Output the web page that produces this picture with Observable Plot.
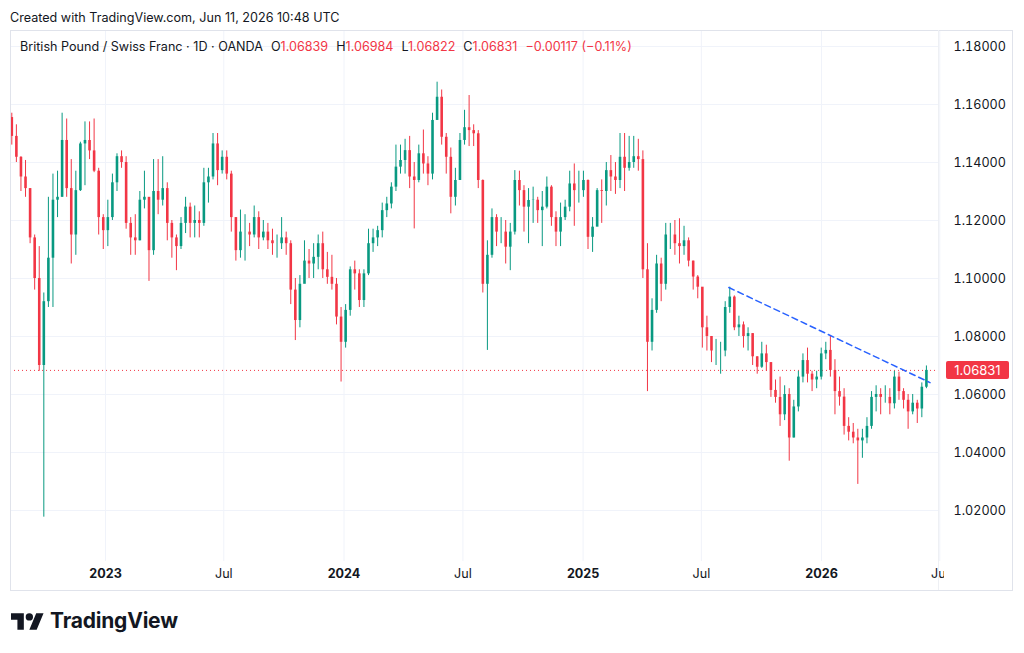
<!DOCTYPE html>
<html><head><meta charset="utf-8">
<script src="https://cdn.jsdelivr.net/npm/d3@7"></script>
<script src="https://cdn.jsdelivr.net/npm/@observablehq/plot@0.6"></script>
<style>
body{margin:0;background:#fff;font-family:Inter,"Noto Sans",sans-serif;}
#wrap{position:relative;width:1024px;height:653px;overflow:hidden;}
#wrap > svg{position:absolute;left:0;top:0;}
.ov{position:absolute;}
#created{left:10px;top:10px;font-size:12.6px;color:#131722;white-space:nowrap;}
#legend{left:20px;top:39px;font-size:12.6px;color:#131722;white-space:nowrap;}
.r{color:#f23645}
#frame{left:10px;top:30px;width:1001px;height:559px;border:1px solid #e0e3eb;box-sizing:content-box;pointer-events:none}
#sep{left:938px;top:30px;width:1px;height:560px;background:#eef0f4}
#cover{left:944px;top:562px;width:67px;height:27px;background:#fff}
#plabel{left:946px;width:63px;height:18px;background:#f23645;color:#fff;font-size:13px;line-height:18px;text-align:center;border-radius:2px}
#logo{left:11px;top:608px;display:flex;align-items:center;gap:6px}
#logo svg{display:block}
#logo span{font-size:21px;font-weight:700;color:#131722;letter-spacing:-0.2px;line-height:26px}
</style></head>
<body><div id="wrap"></div>
<script>
// ---- data (weekly candles) ----
const firstWeek = "2022-08-08";
const firstOpen = 1.1555;
const closes = [
1.1490,1.1418,1.1350,1.1310,1.1140,1.1000,1.0700,1.0920,1.1070,1.1270,
1.1280,1.1476,1.1310,1.1150,1.1303,1.1464,1.1476,1.1440,1.1370,1.1210,
1.1165,1.1210,1.1330,1.1420,1.1400,1.1190,1.1140,1.1130,1.1270,1.1280,
1.1096,1.1300,1.1270,1.1310,1.1190,1.1140,1.1110,1.1190,1.1246,1.1190,
1.1200,1.1190,1.1330,1.1350,1.1464,1.1372,1.1418,1.1360,1.1210,1.1096,
1.1160,1.1160,1.1150,1.1210,1.1140,1.1160,1.1130,1.1120,1.1120,1.1140,
1.1120,1.0960,1.0855,1.0980,1.1060,1.1050,1.1073,1.1120,1.1030,1.1004,
1.0980,1.0867,1.0780,1.0890,1.1030,1.1016,1.0924,1.1016,1.1120,1.1140,
1.1165,1.1234,1.1257,1.1315,1.1384,1.1407,1.1441,1.1350,1.1338,1.1430,
1.1395,1.1360,1.1545,1.1625,1.1487,1.1418,1.1280,1.1338,1.1476,1.1520,
1.1510,1.1499,1.1338,1.0980,1.1080,1.1210,1.1160,1.1160,1.1108,1.1160,
1.1338,1.1303,1.1246,1.1269,1.1270,1.1234,1.1246,1.1315,1.1210,1.1160,
1.1210,1.1246,1.1326,1.1303,1.1303,1.1338,1.1142,1.1177,1.1303,1.1300,
1.1372,1.1350,1.1338,1.1418,1.1380,1.1400,1.1420,1.1410,1.1030,1.0780,
1.0890,1.1050,1.0980,1.1150,1.1150,1.1120,1.1110,1.1130,1.1060,1.1005,
1.0970,1.0830,1.0800,1.0750,1.0750,1.0750,1.0900,1.0936,1.0830,1.0840,
1.0800,1.0810,1.0730,1.0694,1.0740,1.0710,1.0614,1.0590,1.0530,1.0600,
1.0450,1.0557,1.0660,1.0717,1.0670,1.0650,1.0660,1.0740,1.0752,1.0683,
1.0610,1.0591,1.0490,1.0470,1.0450,1.0440,1.0450,1.0490,1.0590,1.0600,
1.0590,1.0590,1.0568,1.0660,1.0610,1.0580,1.0540,1.0570,1.0550,1.0625,
1.06831];
const highs = [
1.1570,1.1530,1.1420,1.1407,1.1310,1.1150,1.1110,1.0950,1.1280,1.1360,
1.1370,1.1570,1.1550,1.1410,1.1370,1.1470,1.1540,1.1540,1.1550,1.1380,
1.1220,1.1270,1.1360,1.1430,1.1440,1.1420,1.1210,1.1220,1.1300,1.1370,
1.1260,1.1410,1.1410,1.1420,1.1330,1.1200,1.1150,1.1210,1.1280,1.1260,
1.1250,1.1230,1.1380,1.1380,1.1500,1.1500,1.1440,1.1440,1.1370,1.1210,
1.1236,1.1220,1.1190,1.1250,1.1230,1.1200,1.1190,1.1170,1.1150,1.1210,
1.1160,1.1130,1.1000,1.1010,1.1130,1.1100,1.1120,1.1150,1.1160,1.1090,
1.1080,1.1000,1.0900,1.0910,1.1040,1.1060,1.1030,1.1030,1.1170,1.1170,
1.1180,1.1260,1.1280,1.1330,1.1460,1.1460,1.1480,1.1490,1.1400,1.1460,
1.1512,1.1420,1.1570,1.1677,1.1650,1.1500,1.1450,1.1380,1.1500,1.1580,
1.1631,1.1530,1.1510,1.1340,1.1130,1.1240,1.1220,1.1210,1.1200,1.1190,
1.1372,1.1370,1.1320,1.1310,1.1315,1.1280,1.1300,1.1350,1.1320,1.1230,
1.1260,1.1270,1.1370,1.1395,1.1370,1.1370,1.1340,1.1210,1.1310,1.1340,
1.1400,1.1424,1.1400,1.1500,1.1500,1.1490,1.1490,1.1480,1.1440,1.1120,
1.0930,1.1080,1.1070,1.1190,1.1190,1.1200,1.1206,1.1180,1.1140,1.1060,
1.1010,1.0960,1.0870,1.0800,1.0790,1.0780,1.0920,1.0970,1.0940,1.0870,
1.0850,1.0830,1.0810,1.0730,1.0780,1.0770,1.0710,1.0650,1.0660,1.0630,
1.0620,1.0580,1.0680,1.0740,1.0760,1.0680,1.0680,1.0760,1.0780,1.0800,
1.0720,1.0660,1.0620,1.0520,1.0500,1.0480,1.0480,1.0520,1.0610,1.0630,
1.0620,1.0630,1.0620,1.0680,1.0677,1.0620,1.0600,1.0600,1.0580,1.0640,
1.06984];
const lows = [
1.1460,1.1400,1.1300,1.1280,1.1120,1.0960,1.0680,1.0177,1.0900,1.0900,
1.1210,1.1280,1.1280,1.1050,1.1080,1.1300,1.1320,1.1410,1.1365,1.1150,
1.1100,1.1110,1.1200,1.1300,1.1380,1.1170,1.1080,1.1080,1.1130,1.1240,
1.0990,1.1080,1.1220,1.1250,1.1130,1.1070,1.1027,1.1100,1.1155,1.1140,
1.1140,1.1140,1.1180,1.1260,1.1340,1.1320,1.1360,1.1340,1.1160,1.1060,
1.1070,1.1060,1.1110,1.1140,1.1100,1.1130,1.1100,1.1080,1.1070,1.1100,
1.1080,1.0910,1.0786,1.0830,1.0990,1.1000,1.1000,1.1030,1.1000,1.0980,
1.0960,1.0840,1.0643,1.0760,1.0870,1.0960,1.0900,1.0900,1.1010,1.1090,
1.1110,1.1140,1.1210,1.1240,1.1300,1.1360,1.1360,1.1310,1.1171,1.1330,
1.1360,1.1320,1.1340,1.1550,1.1460,1.1360,1.1223,1.1250,1.1340,1.1460,
1.1455,1.1455,1.1310,1.0950,1.0752,1.1070,1.1110,1.1120,1.1050,1.1027,
1.1150,1.1250,1.1160,1.1120,1.1190,1.1190,1.1110,1.1240,1.1180,1.1110,
1.1110,1.1200,1.1230,1.1180,1.1260,1.1280,1.1100,1.1090,1.1180,1.1190,
1.1250,1.1300,1.1290,1.1310,1.1300,1.1370,1.1380,1.1370,1.1000,1.0610,
1.0750,1.0880,1.0920,1.0960,1.1100,1.1080,1.1050,1.1080,1.1040,1.0960,
1.0930,1.0760,1.0750,1.0710,1.0700,1.0670,1.0730,1.0880,1.0820,1.0800,
1.0760,1.0750,1.0700,1.0670,1.0690,1.0680,1.0590,1.0570,1.0490,1.0510,
1.0370,1.0450,1.0540,1.0640,1.0640,1.0610,1.0620,1.0650,1.0720,1.0660,
1.0530,1.0560,1.0460,1.0440,1.0430,1.0290,1.0380,1.0430,1.0480,1.0540,
1.0530,1.0570,1.0530,1.0550,1.0580,1.0550,1.0480,1.0530,1.0500,1.0520,
1.0620];
const priceTicks = [1.02,1.04,1.06,1.08,1.10,1.12,1.14,1.16,1.18];
const timeTicks = ["2023-01-01","2023-07-01","2024-01-01","2024-07-01","2025-01-01","2025-07-01","2026-01-01","2026-07-01"];
const timeLabels = ["2023","Jul","2024","Jul","2025","Jul","2026","Jul"];
const timeIsYear = [true,false,true,false,true,false,true,false];
const trendDates = ["2025-08-12","2026-06-16"];
const trendValues = [1.0969,1.0641];
const lastPrice = 1.06831;
const headerText = "Created with TradingView.com, Jun 11, 2026 10:48 UTC";
const symbolText = "British Pound / Swiss Franc · 1D · OANDA";
const ohlcLabels = ["O","H","L","C"];
const ohlcValues = ["1.06839","1.06984","1.06822","1.06831"];
const changeText = "−0.00117 (−0.11%)";

// ---- build ----
const UP = "#089981", DOWN = "#f23645";
const t0 = new Date(firstWeek + "T00:00:00Z").getTime();
const candles = closes.map((c, i) => {
  const open = i === 0 ? firstOpen : closes[i - 1];
  return {date: new Date(t0 + (i * 7 + 2.5) * 864e5), open, close: c, high: highs[i], low: lows[i], up: c >= open};
});
const ticks = timeTicks.map((d, i) => ({date: new Date(d + "T00:00:00Z"), label: timeLabels[i], year: timeIsYear[i]}));
const trend = trendDates.map((d, i) => ({date: new Date(d + "T00:00:00Z"), value: trendValues[i]}));

const chart = Plot.plot({
  width: 1024, height: 653,
  marginLeft: 10, marginRight: 86, marginTop: 30, marginBottom: 92,
  x: {type: "utc", domain: [new Date("2022-08-08T12:00:00Z"), new Date("2026-06-29T00:00:00Z")], axis: null},
  y: {domain: [1.00241, 1.18552]},
  style: {fontFamily: "Inter, 'Noto Sans', sans-serif", fontSize: "12.6px", color: "#131722", background: "transparent", overflow: "visible"},
  marks: [
    Plot.ruleY(priceTicks, {stroke: "#f0f3fa", strokeWidth: 1}),
    Plot.ruleX(ticks, {x: "date", stroke: "#f0f3fa", strokeWidth: 1}),
    Plot.ruleY([lastPrice], {stroke: DOWN, strokeWidth: 1, strokeDasharray: "1,3"}),
    Plot.ruleX(candles, {x: "date", y1: "low", y2: "high", stroke: d => d.up ? UP : DOWN, strokeWidth: 1}),
    Plot.ruleX(candles, {x: "date", y1: "open", y2: "close", stroke: d => d.up ? UP : DOWN, strokeWidth: 2.6}),
    Plot.line(trend, {x: "date", y: "value", stroke: "#2962ff", strokeWidth: 1.5, strokeDasharray: "6,4"}),
    Plot.axisY(priceTicks, {anchor: "right", tickSize: 0, tickPadding: 15, tickFormat: d3.format(".5f"), label: null, fill: "#131722"}),
    Plot.text(ticks.filter(d => d.year), {x: "date", text: "label", frameAnchor: "bottom", dy: 16, fontWeight: "bold", fill: "#131722"}),
    Plot.text(ticks.filter(d => !d.year), {x: "date", text: "label", frameAnchor: "bottom", dy: 16, fill: "#131722"})
  ]
});

const wrap = document.getElementById("wrap");
wrap.appendChild(chart);

function ov(id, html) { const d = document.createElement("div"); d.className = "ov"; d.id = id; if (html != null) d.innerHTML = html; wrap.appendChild(d); return d; }
ov("cover");
ov("frame");
ov("sep");
ov("created").textContent = headerText;
let leg = `<span>${symbolText}</span>`;
ohlcLabels.forEach((l, i) => { leg += `<span style="margin-left:8px">${l}<span class="r">${ohlcValues[i]}</span></span>`; });
leg += `<span class="r" style="margin-left:8px">${changeText}</span>`;
ov("legend", leg);
const py = chart.scale("y").apply(lastPrice);
const pl = ov("plabel"); pl.textContent = d3.format(".5f")(lastPrice); pl.style.top = (py - 9) + "px";
ov("logo", `<svg width="33" height="17" viewBox="0 4 36 18"><path fill="#131722" d="M14 22H7V11H0V4h14v18zM28 22h-8l7.5-18h8L28 22z"/><circle fill="#131722" cx="20" cy="8" r="4"/></svg><span>TradingView</span>`);
</script></body></html>
